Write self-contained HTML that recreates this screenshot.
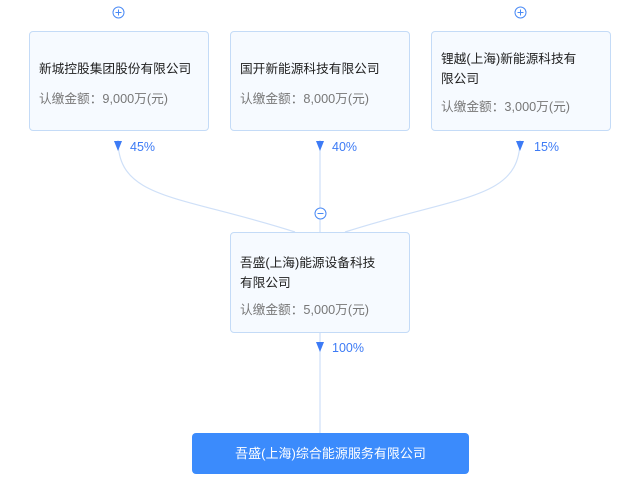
<!DOCTYPE html>
<html><head><meta charset="utf-8"><style>
body{margin:0;width:635px;height:483px;background:#fff;position:relative;overflow:hidden;font-family:"Liberation Sans","Noto Sans CJK SC",sans-serif}
.b{position:absolute;width:180px;height:100px;border:1px solid #c4dbf7;border-radius:4px;background:#f6faff;box-sizing:border-box}
.t{position:absolute;left:9px;font-size:12.7px;color:#222;line-height:20px}
.a{position:absolute;left:9px;font-size:12.7px;color:#777;line-height:20px}
.p{position:absolute;font-size:12.5px;color:#3d7bf5}
</style></head><body>
<svg width="635" height="483" style="position:absolute;left:0;top:0">
<g fill="none" stroke="#cfe0f8" stroke-width="1.2">
<path d="M118 140 C118 200 180 195 295 232"/>
<path d="M520 140 C520 200 460 195 345 232"/>
<path d="M320 140 L320 232"/>
<path d="M320 333 L320 433"/>
</g>
<g fill="#3d7bf5">
<path d="M114 141 L122 141 L118 151Z"/>
<path d="M316 141 L324 141 L320 151Z"/>
<path d="M516 141 L524 141 L520 151Z"/>
<path d="M316 342 L324 342 L320 352Z"/>
</g>
<g fill="#fff" stroke="#4a8af5" stroke-width="1">
<circle cx="118.5" cy="12.5" r="5.5"/><circle cx="520.5" cy="12.5" r="5.5"/><circle cx="320.5" cy="213.5" r="5.5"/>
</g>
<g stroke="#4a8af5" stroke-width="1">
<path d="M115.5 12.5h6M118.5 9.5v6M517.5 12.5h6M520.5 9.5v6M317.5 213.5h6"/>
</g>
</svg>
<div class="b" style="left:29px;top:31px"><div class="t" style="top:27px">新城控股集团股份有限公司</div><div class="a" style="top:57px">认缴金额：9,000万(元)</div></div>
<div class="b" style="left:230px;top:31px"><div class="t" style="top:27px">国开新能源科技有限公司</div><div class="a" style="top:57px">认缴金额：8,000万(元)</div></div>
<div class="b" style="left:431px;top:31px"><div class="t" style="top:17px;width:160px">锂越(上海)新能源科技有<br>限公司</div><div class="a" style="top:65px">认缴金额：3,000万(元)</div></div>
<div class="b" style="left:230px;top:232px;height:101px"><div class="t" style="top:20px">吾盛(上海)能源设备科技<br>有限公司</div><div class="a" style="top:67px">认缴金额：5,000万(元)</div></div>
<div class="p" style="left:130px;top:140px">45%</div>
<div class="p" style="left:332px;top:140px">40%</div>
<div class="p" style="left:534px;top:140px">15%</div>
<div class="p" style="left:332px;top:341px">100%</div>
<div style="position:absolute;left:192px;top:433px;width:277px;height:41px;background:#3b8bfc;border-radius:4px;color:#fff;font-size:13px;line-height:41px;text-align:center">吾盛(上海)综合能源服务有限公司</div>
</body></html>
